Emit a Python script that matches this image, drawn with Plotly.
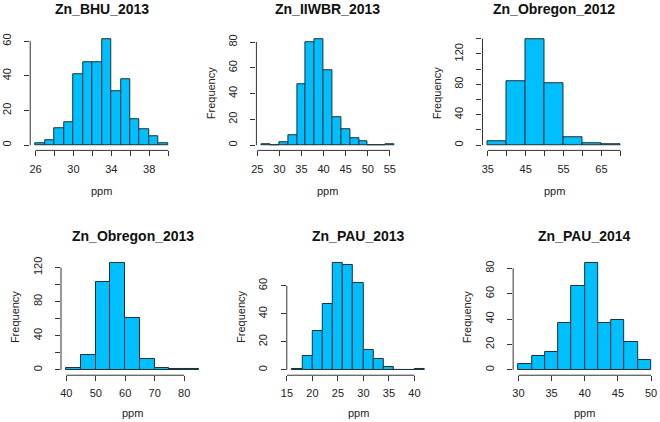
import plotly.graph_objects as go

# ---------------- data ----------------
titles = ["Zn_BHU_2013", "Zn_IIWBR_2013", "Zn_Obregon_2012",
          "Zn_Obregon_2013", "Zn_PAU_2013", "Zn_PAU_2014"]

bhu13_start, bhu13_width = 26, 1
bhu13_counts = [1, 3, 10, 13, 41, 48, 48, 61, 31, 38, 15, 9, 5, 1]

iiwbr13_start, iiwbr13_width = 26, 2
iiwbr13_counts = [1, 0, 2, 8, 47, 80, 82, 58, 22, 12, 5, 3, 0, 0, 1]

obr12_start, obr12_width = 35, 5
obr12_counts = [5, 84, 139, 81, 10, 2, 1]

obr13_start, obr13_width = 40, 5
obr13_counts = [2, 17, 103, 125, 61, 13, 2, 1, 1]

pau13_start, pau13_width = 16, 2
pau13_counts = [1, 10, 28, 47, 76, 75, 62, 14, 8, 2, 0, 0, 1]

pau14_start, pau14_width = 30, 2
pau14_counts = [5, 11, 14, 37, 66, 84, 37, 39, 22, 8]

# axis ticks (R pretty ticks) and which ones carry a label
bhu13_xticks = [26, 28, 30, 32, 34, 36, 38, 40]
bhu13_xlabels = ["26", "", "30", "", "34", "", "38", ""]
iiwbr13_xticks = [25, 30, 35, 40, 45, 50, 55]
iiwbr13_xlabels = ["25", "30", "35", "40", "45", "50", "55"]
obr12_xticks = [35, 40, 45, 50, 55, 60, 65, 70]
obr12_xlabels = ["35", "", "45", "", "55", "", "65", ""]
obr13_xticks = [40, 50, 60, 70, 80]
obr13_xlabels = ["40", "50", "60", "70", "80"]
pau13_xticks = [15, 20, 25, 30, 35, 40]
pau13_xlabels = ["15", "20", "25", "30", "35", "40"]
pau14_xticks = [30, 35, 40, 45, 50]
pau14_xlabels = ["30", "35", "40", "45", "50"]

bhu13_yticks = [0, 20, 40, 60]
bhu13_ylabels = ["0", "20", "40", "60"]
iiwbr13_yticks = [0, 20, 40, 60, 80]
iiwbr13_ylabels = ["0", "20", "40", "60", "80"]
obr12_yticks = [0, 20, 40, 60, 80, 100, 120, 140]
obr12_ylabels = ["0", "", "40", "", "80", "", "120", ""]
obr13_yticks = [0, 20, 40, 60, 80, 100, 120]
obr13_ylabels = ["0", "", "40", "", "80", "", "120"]
pau13_yticks = [0, 20, 40, 60]
pau13_ylabels = ["0", "20", "40", "60"]
pau14_yticks = [0, 20, 40, 60, 80]
pau14_ylabels = ["0", "20", "40", "60", "80"]

x_label = "ppm"
y_label = "Frequency"

panels = [
    (bhu13_start, bhu13_width, bhu13_counts, bhu13_xticks, bhu13_xlabels, bhu13_yticks, bhu13_ylabels),
    (iiwbr13_start, iiwbr13_width, iiwbr13_counts, iiwbr13_xticks, iiwbr13_xlabels, iiwbr13_yticks, iiwbr13_ylabels),
    (obr12_start, obr12_width, obr12_counts, obr12_xticks, obr12_xlabels, obr12_yticks, obr12_ylabels),
    (obr13_start, obr13_width, obr13_counts, obr13_xticks, obr13_xlabels, obr13_yticks, obr13_ylabels),
    (pau13_start, pau13_width, pau13_counts, pau13_xticks, pau13_xlabels, pau13_yticks, pau13_ylabels),
    (pau14_start, pau14_width, pau14_counts, pau14_xticks, pau14_xlabels, pau14_yticks, pau14_ylabels),
]

# ---------------- layout (pixel geometry of the page) ----------------
W, H = 660, 422
x_dom_px = [(24.5, 169.2), (253.1, 397.8), (481.6, 626.3),
            (55.6, 200.3), (283.8, 428.5), (512.6, 657.3)]
row_y_px = [(33.4, 149.1), (258.2, 375.0)]
title_y_px = [7.5, 235.5]
xlab_y_px = [190, 413]
show_ylab = [False, True, True, True, True, True]

FONT = "Liberation Sans, Arial, sans-serif"
FILL = "#00BFFF"
EDGE = "#1b2f3a"
AXC = "#333333"

fig = go.Figure()
shapes = []
annotations = []

for i, (start, width, counts, xt, xl, yt, yl) in enumerate(panels):
    n = i + 1
    xs = "x" if n == 1 else f"x{n}"
    ys = "y" if n == 1 else f"y{n}"
    xa = "xaxis" if n == 1 else f"xaxis{n}"
    ya = "yaxis" if n == 1 else f"yaxis{n}"
    row = 0 if i < 3 else 1

    centers = [start + width * (k + 0.5) for k in range(len(counts))]
    fig.add_trace(go.Bar(
        x=centers, y=counts, width=[width] * len(counts),
        marker=dict(color=FILL, line=dict(color=EDGE, width=1)),
        xaxis=xs, yaxis=ys, showlegend=False, hoverinfo="x+y",
    ))

    lo = start
    hi = start + width * len(counts)
    pad = 0.04 * (hi - lo)
    ymax = max(counts)

    x0p, x1p = x_dom_px[i]
    y0p, y1p = row_y_px[row]
    fig.update_layout(**{
        xa: dict(domain=[x0p / W, x1p / W], range=[lo - pad, hi + pad],
                 anchor=ys, showgrid=False, zeroline=False, showline=False,
                 tickmode="array", tickvals=xt, ticktext=xl,
                 ticks="outside", ticklen=5, tickwidth=1, tickcolor=AXC,
                 ticklabelstandoff=3,
                 tickfont=dict(family=FONT, size=11, color="#222")),
        ya: dict(domain=[1 - y1p / H, 1 - y0p / H], range=[-0.05 * ymax, 1.04 * ymax],
                 anchor=xs, showgrid=False, zeroline=False, showline=False,
                 tickmode="array", tickvals=yt, ticktext=yl, tickangle=-90,
                 ticks="outside", ticklen=5, tickwidth=1, tickcolor=AXC,
                 ticklabelstandoff=9,
                 tickfont=dict(family=FONT, size=11, color="#222")),
    })

    # R-style axis lines spanning first to last tick
    shapes.append(dict(type="line", xref=xs, yref=f"{ys} domain",
                       x0=xt[0], x1=xt[-1], y0=0, y1=0,
                       line=dict(color=AXC, width=1)))
    shapes.append(dict(type="line", xref=f"{xs} domain", yref=ys,
                       x0=0, x1=0, y0=yt[0], y1=yt[-1],
                       line=dict(color=AXC, width=1)))

    annotations.append(dict(text=f"<b>{titles[i]}</b>", xref=f"{xs} domain", x=0.5,
                            yref="paper", y=1 - title_y_px[row] / H,
                            xanchor="center", yanchor="middle", showarrow=False,
                            font=dict(family=FONT, size=14, color="#111")))
    annotations.append(dict(text=x_label, xref=f"{xs} domain", x=0.5,
                            yref="paper", y=1 - xlab_y_px[row] / H,
                            xanchor="center", yanchor="middle", showarrow=False,
                            font=dict(family=FONT, size=11, color="#222")))
    if show_ylab[i]:
        annotations.append(dict(text=y_label, xref=f"{xs} domain", x=0, xshift=-46,
                                yref=f"{ys} domain", y=0.5, textangle=-90,
                                xanchor="center", yanchor="middle", showarrow=False,
                                font=dict(family=FONT, size=11, color="#222")))

fig.update_layout(
    width=W, height=H, margin=dict(l=0, r=0, t=0, b=0),
    paper_bgcolor="white", plot_bgcolor="white",
    bargap=0, shapes=shapes, annotations=annotations,
)

fig.write_html("out.html", config={"displayModeBar": False},
               post_script="document.body.style.margin='0';document.body.style.overflow='hidden';")
